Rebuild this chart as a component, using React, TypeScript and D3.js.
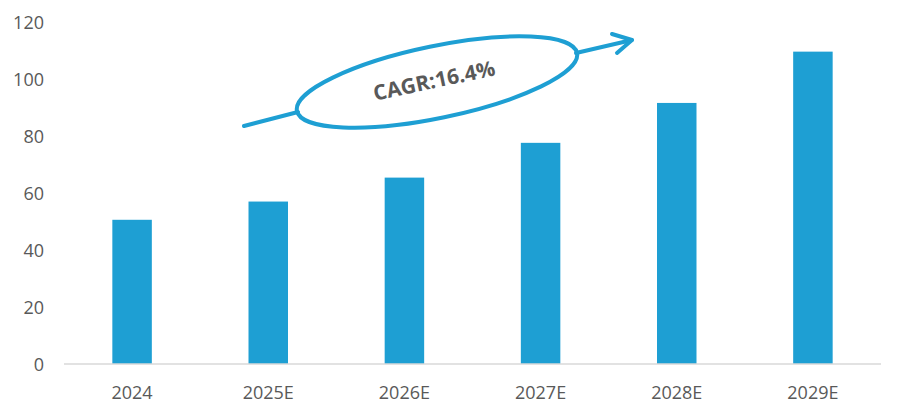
import React from "react";
import * as d3 from "d3";

const categories = ["2024", "2025E", "2026E", "2027E", "2028E", "2029E"];
const values = [50.6, 57, 65.4, 77.6, 91.6, 109.6];
const yTicks = [0, 20, 40, 60, 80, 100, 120];
const cagrLabel = "CAGR:16.4%";

const W = 904;
const H = 420;
const BLUE = "#1e9fd3";
const TEXT = "#595959";
const FONT = "'Open Sans', 'Noto Sans', sans-serif";

export default function App() {
  const x = d3.scaleBand<string>().domain(categories).range([64, 881]).padding(0);
  const y = d3.scaleLinear().domain([0, 120]).range([364, 22]);
  const barW = x.step() * 0.29;

  // annotation geometry
  const cx = 437, cy = 82, rx = 143, ry = 36, ang = -11.7;
  const tip = [632, 40];

  return (
    <svg width={W} height={H} style={{ display: "block", position: "absolute", left: 0, top: 0 }}>
      <rect width={W} height={H} fill="#fff" />
      {yTicks.map((t) => (
        <text key={t} x={44} y={y(t)} textAnchor="end" dominantBaseline="central"
          fontFamily={FONT} fontSize={18} fill={TEXT}>{t}</text>
      ))}
      {categories.map((c, i) => (
        <rect key={c} x={(x(c) as number) + x.step() / 2 - barW / 2} y={y(values[i])}
          width={barW} height={y(0) - y(values[i])} fill={BLUE} />
      ))}
      <line x1={64} x2={881} y1={y(0)} y2={y(0)} stroke="#d9d9d9" strokeWidth={1.5} />
      {categories.map((c) => (
        <text key={c} x={(x(c) as number) + x.step() / 2} y={399} textAnchor="middle"
          fontFamily={FONT} fontSize={18} fill={TEXT}>{c}</text>
      ))}
      {/* CAGR annotation */}
      <line x1={244} y1={126} x2={298} y2={112} stroke={BLUE} strokeWidth={4} strokeLinecap="round" />
      <line x1={576} y1={53} x2={tip[0]} y2={tip[1]} stroke={BLUE} strokeWidth={4} strokeLinecap="round" />
      <polyline points={`612,34 ${tip[0]},${tip[1]} 617,53`} fill="none" stroke={BLUE}
        strokeWidth={4} strokeLinecap="round" strokeLinejoin="round" />
      <ellipse cx={cx} cy={cy} rx={rx} ry={ry} transform={`rotate(${ang} ${cx} ${cy})`}
        fill="none" stroke={BLUE} strokeWidth={4} />
      <text x={434} y={80} textAnchor="middle" dominantBaseline="central"
        transform={`rotate(-12 434 80)`} fontFamily={FONT} fontWeight="bold" fontSize={21} fill={TEXT}>
        {cagrLabel}
      </text>
    </svg>
  );
}
